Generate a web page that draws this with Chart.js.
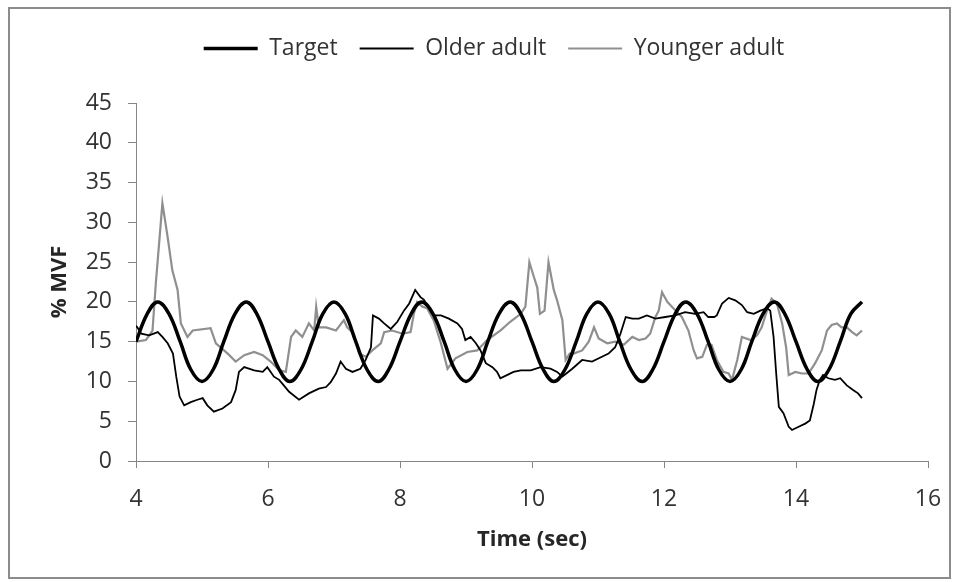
<!DOCTYPE html>
<html>
<head>
<meta charset="utf-8">
<script src="https://cdn.jsdelivr.net/npm/chart.js@4.4.0/dist/chart.umd.min.js"></script>
<style>
  html, body { margin: 0; padding: 0; background: #fff; }
  #frame { position: absolute; left: 8px; top: 7px; width: 939px; height: 568px; border: 2px solid #8c8c8c; }
  canvas { display: block; }
</style>
</head>
<body>
<div id="frame"><canvas id="c" width="939" height="568"></canvas></div>
<script>
  // ── data ──────────────────────────────────────────────────
  const seriesNames = ['Target', 'Older adult', 'Younger adult'];

  // target force: sine between 10 and 20 %MVF, sampled every 1/6 s
  const targetT = [4.00, 4.17, 4.33, 4.50, 4.67, 4.83, 5.00, 5.17, 5.33, 5.50, 5.67, 5.83,
    6.00, 6.17, 6.33, 6.50, 6.67, 6.83, 7.00, 7.17, 7.33, 7.50, 7.67, 7.83,
    8.00, 8.17, 8.33, 8.50, 8.67, 8.83, 9.00, 9.17, 9.33, 9.50, 9.67, 9.83,
    10.00, 10.17, 10.33, 10.50, 10.67, 10.83, 11.00, 11.17, 11.33, 11.50, 11.67, 11.83,
    12.00, 12.17, 12.33, 12.50, 12.67, 12.83, 13.00, 13.17, 13.33, 13.50, 13.67, 13.83,
    14.00, 14.17, 14.33, 14.50, 14.67, 14.83, 15.00];
  const targetV = [15, 18.5, 20, 18.5, 15, 11.5, 10, 11.5, 15, 18.5, 20, 18.5,
    15, 11.5, 10, 11.5, 15, 18.5, 20, 18.5, 15, 11.5, 10, 11.5,
    15, 18.5, 20, 18.5, 15, 11.5, 10, 11.5, 15, 18.5, 20, 18.5,
    15, 11.5, 10, 11.5, 15, 18.5, 20, 18.5, 15, 11.5, 10, 11.5,
    15, 18.5, 20, 18.5, 15, 11.5, 10, 11.5, 15, 18.5, 20, 18.5,
    15, 11.5, 10, 11.5, 15, 18.5, 20];

  const olderT = [4.00, 4.02, 4.08, 4.20, 4.33, 4.40, 4.48, 4.56, 4.61, 4.66, 4.73, 4.83, 4.93,
    5.01, 5.08, 5.18, 5.31, 5.44, 5.51, 5.56, 5.64, 5.79, 5.92, 5.99, 6.09, 6.17, 6.22,
    6.32, 6.47, 6.62, 6.77, 6.88, 6.95, 7.03, 7.10, 7.18, 7.28, 7.40, 7.48, 7.56, 7.59,
    7.68, 7.76, 7.86, 7.96, 8.06, 8.14, 8.23, 8.31, 8.36, 8.41, 8.51, 8.62, 8.74, 8.87,
    8.94, 8.99, 9.07, 9.15, 9.22, 9.30, 9.40, 9.47, 9.52, 9.62, 9.72, 9.83, 9.98, 10.13,
    10.28, 10.38, 10.46, 10.52, 10.61, 10.76, 10.91, 11.06, 11.16, 11.26, 11.34, 11.42,
    11.52, 11.62, 11.74, 11.87, 12.02, 12.17, 12.32, 12.47, 12.60, 12.67, 12.76, 12.80,
    12.88, 12.98, 13.08, 13.18, 13.26, 13.36, 13.46, 13.56, 13.61, 13.66, 13.70, 13.74,
    13.81, 13.89, 13.94, 14.04, 14.14, 14.21, 14.27, 14.31, 14.36, 14.41, 14.49, 14.59,
    14.67, 14.77, 14.87, 14.94, 15.00];
  const olderV = [17.0, 16.8, 16.0, 15.8, 16.2, 15.6, 14.8, 13.5, 10.6, 8.1, 7.0, 7.4, 7.7,
    7.9, 7.0, 6.2, 6.6, 7.4, 8.9, 11.2, 11.8, 11.4, 11.2, 11.8, 10.6, 10.2, 9.7,
    8.7, 7.7, 8.5, 9.1, 9.3, 9.9, 11.0, 12.5, 11.6, 11.2, 11.6, 12.7, 14.3, 18.3,
    17.9, 17.3, 16.6, 17.5, 18.9, 19.8, 21.5, 20.6, 20.3, 19.6, 18.3, 18.3, 17.9, 17.3,
    16.6, 15.2, 15.6, 14.8, 13.9, 12.3, 11.8, 11.2, 10.4, 10.8, 11.2, 11.4, 11.4, 11.8,
    11.6, 11.2, 10.6, 11.0, 11.6, 12.7, 12.5, 13.1, 13.5, 14.3, 16.0, 18.1,
    17.9, 17.9, 18.3, 17.9, 18.1, 18.3, 18.7, 18.5, 18.7, 18.1, 18.1, 18.3,
    19.8, 20.5, 20.2, 19.6, 18.7, 18.5, 18.9, 19.2, 18.9, 15.6, 11.0, 6.8,
    6.0, 4.3, 3.9, 4.3, 4.7, 5.1, 7.2, 8.9, 10.2, 10.8, 10.4, 10.2,
    10.4, 9.5, 8.9, 8.5, 7.9];

  const youngerT = [4.00, 4.15, 4.25, 4.30, 4.40, 4.48, 4.55, 4.63, 4.68, 4.78, 4.86, 5.13,
    5.21, 5.39, 5.51, 5.64, 5.79, 5.92, 6.04, 6.17, 6.27, 6.35, 6.42, 6.52, 6.62, 6.70,
    6.73, 6.77, 6.88, 7.03, 7.15, 7.20, 7.30, 7.38, 7.48, 7.58, 7.71, 7.76, 7.88, 8.04,
    8.16, 8.21, 8.26, 8.34, 8.41, 8.51, 8.62, 8.72, 8.84, 9.02, 9.17, 9.32, 9.52, 9.67,
    9.83, 9.90, 9.96, 10.03, 10.08, 10.12, 10.19, 10.25, 10.33, 10.38, 10.46, 10.51,
    10.57, 10.63, 10.76, 10.86, 10.94, 11.01, 11.14, 11.26, 11.39, 11.52, 11.62, 11.72,
    11.79, 11.87, 11.92, 11.97, 12.05, 12.12, 12.20, 12.27, 12.37, 12.45, 12.50, 12.58,
    12.65, 12.72, 12.80, 12.90, 12.98, 13.03, 13.11, 13.18, 13.31, 13.41, 13.48, 13.56,
    13.63, 13.71, 13.79, 13.85, 13.89, 13.99, 14.09, 14.19, 14.29, 14.39, 14.47, 14.54,
    14.62, 14.69, 14.77, 14.85, 14.92, 15.00];
  const youngerV = [15.0, 15.2, 16.4, 22.3, 32.4, 28.1, 24.0, 21.5, 17.3, 15.6, 16.4, 16.7,
    14.8, 13.5, 12.5, 13.3, 13.7, 13.3, 12.5, 11.4, 11.2, 15.6, 16.4, 15.6, 17.3, 16.4,
    19.4, 16.8, 16.8, 16.4, 17.7, 16.8, 16.0, 13.5, 13.1, 13.9, 14.8, 16.2, 16.4, 16.0,
    16.2, 18.5, 20.0, 19.4, 19.2, 17.7, 14.8, 11.6, 12.9, 13.7, 13.9, 15.2, 16.4, 17.5,
    18.5, 19.4, 25.0, 23.1, 21.8, 18.5, 18.9, 25.0, 21.5, 20.2, 17.7, 12.7,
    13.5, 13.5, 13.9, 15.0, 16.8, 15.4, 14.8, 15.0, 14.6, 15.6, 15.2, 15.4,
    16.0, 18.1, 18.9, 21.2, 20.0, 19.4, 18.7, 18.1, 16.4, 13.9, 12.9, 13.1,
    14.6, 14.6, 12.7, 11.2, 11.0, 10.2, 12.7, 15.6, 15.2, 15.8, 16.8, 18.9,
    20.4, 19.8, 17.3, 14.3, 10.8, 11.2, 11.0, 11.0, 12.3, 13.9, 16.4, 17.1,
    17.3, 16.8, 16.8, 16.2, 15.8, 16.4];

  const xTicks = { min: 4, max: 16, step: 2 };
  const yTicks = { min: 0, max: 45, step: 5 };

  // ── styling ───────────────────────────────────────────────
  const FONT = '"Open Sans", "Liberation Sans", sans-serif';
  const TEXT = '#333333';
  const AXIS = '#868686';

  function pts(ts, vs) { return ts.map((t, i) => ({ x: t, y: vs[i] })); }

  const datasets = [
    { label: seriesNames[0], data: pts(targetT, targetV), borderColor: '#000000', backgroundColor: '#000000', borderWidth: 3.5, tension: 0.4 },
    { label: seriesNames[1], data: pts(olderT, olderV), borderColor: '#000000', backgroundColor: '#000000', borderWidth: 1.8, tension: 0 },
    { label: seriesNames[2], data: pts(youngerT, youngerV), borderColor: '#8f8f8f', backgroundColor: '#8f8f8f', borderWidth: 2.2, tension: 0 },
  ].map(d => Object.assign(d, { pointRadius: 0, fill: false }));

  new Chart(document.getElementById('c'), {
    type: 'line',
    data: { datasets },
    options: {
      responsive: false,
      animation: false,
      layout: { padding: { left: 50, right: 21, top: 6, bottom: 0 } },
      plugins: {
        tooltip: { enabled: false },
        legend: {
          position: 'top',
          weight: 1000,
          labels: {
            usePointStyle: true, pointStyle: 'line', pointStyleWidth: 54,
            padding: 22, color: TEXT, font: { family: FONT, size: 23 },
          },
        },
        // empty spacer between legend and plot
        title: { display: true, text: ' ', weight: 500, font: { size: 10 }, padding: { top: 0, bottom: 21 } },
      },
      scales: {
        x: {
          type: 'linear', min: xTicks.min, max: xTicks.max,
          ticks: { stepSize: xTicks.step, color: TEXT, font: { family: FONT, size: 23 }, padding: 18 },
          grid: { drawOnChartArea: false, drawTicks: true, tickLength: 7, color: AXIS },
          border: { color: AXIS, width: 1 },
          title: { display: true, text: 'Time (sec)', color: '#262626', font: { family: FONT, size: 22, weight: 'bold' }, padding: { top: 0, bottom: 24 } },
          // fixed height; the end labels fit inside the layout padding
          afterFit: s => { s.height = 116; s.paddingLeft = 0; s.paddingRight = 0; },
        },
        y: {
          min: yTicks.min, max: yTicks.max,
          ticks: { stepSize: yTicks.step, color: TEXT, font: { family: FONT, size: 23 }, padding: 16 },
          grid: { drawOnChartArea: false, drawTicks: true, tickLength: 8, color: AXIS },
          border: { color: AXIS, width: 1 },
          title: { display: true, text: '% MVF', color: '#262626', font: { family: FONT, size: 22, weight: 'bold' }, padding: { top: -13, bottom: 0 } },
          afterFit: s => { s.width = 76; },
        },
      },
    },
  });
</script>
</body>
</html>
